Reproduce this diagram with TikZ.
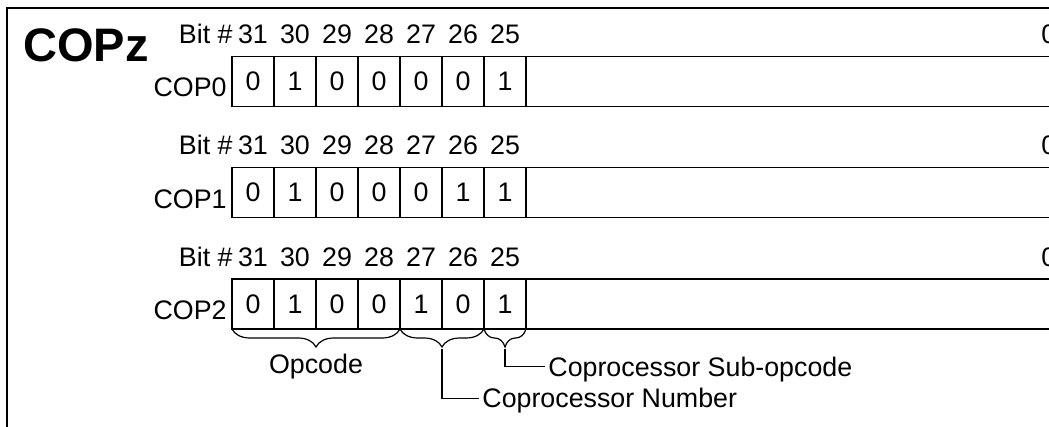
\documentclass[tikz,border=0pt]{standalone}
\usepackage{fontspec}
\setmainfont{Liberation Sans}
\usetikzlibrary{decorations.pathreplacing}
\begin{document}
\begin{tikzpicture}[x=0.5pt,y=-0.5pt,
  lbl/.style={inner sep=0pt, font=\fontsize{13.4}{15}\selectfont},
  cell/.style={draw, line width=0.6pt, minimum width=21pt, minimum height=25pt,
    inner sep=0pt, outer sep=0pt, anchor=north west, font=\fontsize{13.4}{15}\selectfont},
  brc/.style={draw, line width=0.6pt, decorate, decoration={brace, mirror, amplitude=9pt}},
  conn/.style={draw, line width=0.6pt},
  callout/.style={lbl, anchor=west, inner xsep=1.5pt, text height=9.5pt, text depth=0pt}
]
\useasboundingbox (0,0) rectangle (1049,427);
\clip (0,0) rectangle (1049,427);
\fill[white] (0,0) rectangle (1049,427);
% frame
\draw[line width=1pt] (7,440) -- (7,8) -- (1070,8);
% title
\node[inner sep=0pt, anchor=base west, font=\bfseries\fontsize{23.5}{27}\selectfont] (title) at (23,61.7) {COPz};
% rows
\foreach \r/\bits in {0/{0,1,0,0,0,0,1},1/{0,1,0,0,0,1,1},2/{0,1,0,0,1,0,1}}{
  \pgfmathsetmacro\yt{56.5+111.25*\r}
  \node[lbl, anchor=base east] (bit\r) at (233,\yt-13) {Bit \#};
  \node[lbl, anchor=base east] (cop\r) at (227,\yt+40.5) {COP\r};
  \foreach \b [count=\j from 0] in \bits {
    \pgfmathtruncatemacro\n{31-\j}
    \node[cell] (c\r-\j) at (232+42*\j,\yt) {\b};
    \node[lbl, anchor=base] (n\r-\j) at (253+42*\j,\yt-13) {\n};
  }
  \node[cell, minimum width=300pt] (rest\r) at (526,\yt) {};
  \node[lbl, anchor=base west] (z\r) at (1041,\yt-13) {0};
}
% braces
\draw[brc] (c2-0.south west) -- (c2-3.south east);
\draw[brc] (c2-4.south west) -- (c2-5.south east);
\draw[brc] (c2-6.south west) -- (c2-6.south east);
% labels
\node[lbl, anchor=base] (opcode) at (316,373.3) {Opcode};
\coordinate (tipNum) at (442,349);
\coordinate (tipSub) at (505,349);
\node[callout] (sub) at (545,366.7) {Coprocessor Sub-opcode};
\node[callout] (num) at (479,398.3) {Coprocessor Number};
\draw[conn] (tipSub) |- (sub.west);
\draw[conn] (tipNum) |- (num.west);
\end{tikzpicture}
\end{document}
